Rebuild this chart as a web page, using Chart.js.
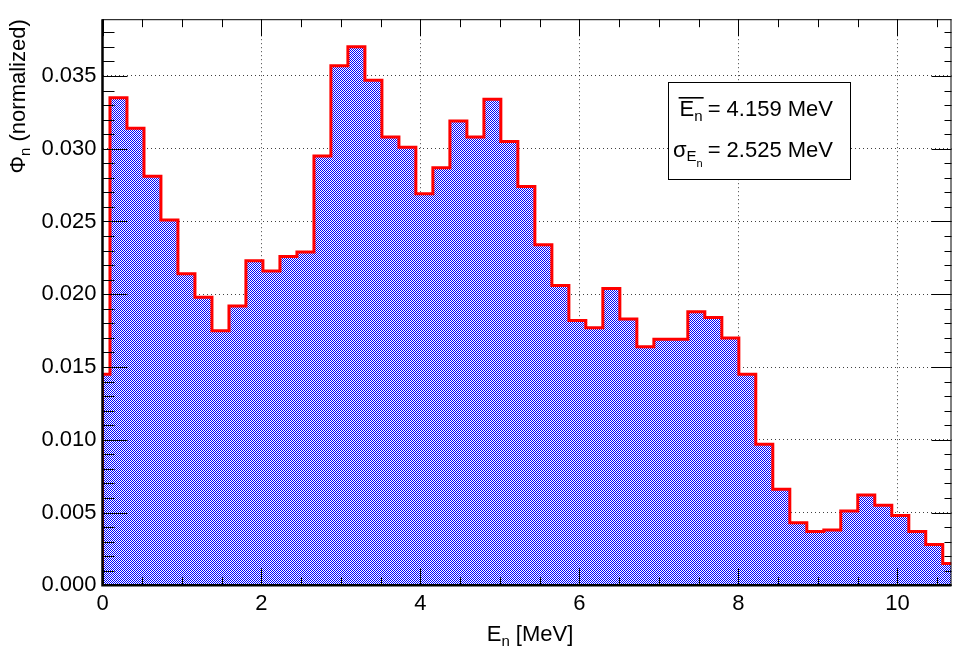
<!DOCTYPE html>
<html>
<head>
<meta charset="utf-8">
<script src="https://cdn.jsdelivr.net/npm/chart.js@4/dist/chart.umd.min.js"></script>
<style>
  html, body { margin: 0; padding: 0; background: #fff; }
  #wrap { width: 953px; height: 653px; position: relative; }
</style>
</head>
<body>
<div id="wrap"><canvas id="c" width="953" height="653"></canvas></div>
<script>
// Lower bin edges of the neutron energy spectrum [MeV]
const binEdges = [
  0, 0.094, 0.308, 0.522, 0.735, 0.949, 1.163, 1.377, 1.591, 1.804,
  2.018, 2.232, 2.446, 2.660, 2.873, 3.087, 3.301, 3.515, 3.729, 3.942,
  4.156, 4.370, 4.584, 4.798, 5.011, 5.225, 5.439, 5.653, 5.867, 6.080,
  6.294, 6.508, 6.722, 6.936, 7.149, 7.363, 7.577, 7.791, 8.005, 8.218,
  8.432, 8.646, 8.860, 9.074, 9.287, 9.501, 9.715, 9.929, 10.143, 10.356,
  10.570
];
// Normalized flux in each bin
const flux = [
  0.0145, 0.0335, 0.0314, 0.0281, 0.0251, 0.0214, 0.0198, 0.0175, 0.0192, 0.0223,
  0.0216, 0.0226, 0.0229, 0.0295, 0.0357, 0.0370, 0.0347, 0.0308, 0.0301, 0.0269,
  0.0287, 0.0319, 0.0308, 0.0334, 0.0305, 0.0274, 0.0234, 0.0206, 0.0182, 0.0177,
  0.0204, 0.0183, 0.0164, 0.0169, 0.0169, 0.0188, 0.0184, 0.0170, 0.0145, 0.0097,
  0.0066, 0.0043, 0.0037, 0.0038, 0.0051, 0.0062, 0.0055, 0.0048, 0.0037, 0.0028,
  0.0015
];
const xMin = 0, xMax = 10.68;
const yMin = 0, yMax = 0.0389;
const xMajorStep = 2, xMinorStep = 0.5;
const yMajorStep = 0.005, yMinorStep = 0.001;
const meanEnergy = '4.159';
const sigmaEnergy = '2.525';
const unit = 'MeV';

const FONT = '"Liberation Sans", Arial, Helvetica, sans-serif';

// Step outline: starts on the baseline, one point per lower edge, closes at the range end
const outline = [{ x: binEdges[0], y: 0 }];
binEdges.forEach((e, i) => outline.push({ x: e, y: flux[i] }));
outline.push({ x: xMax, y: flux[flux.length - 1] });

// Blue/white checker fill
function checkerPattern() {
  const p = document.createElement('canvas');
  p.width = 2; p.height = 2;
  const g = p.getContext('2d');
  g.fillStyle = '#ffffff'; g.fillRect(0, 0, 2, 2);
  g.fillStyle = '#0000ff'; g.fillRect(0, 0, 1, 1); g.fillRect(1, 1, 1, 1);
  return g.createPattern(p, 'repeat');
}

// Inward tick marks on all four sides of the frame, plus the frame itself
const frameTicks = {
  id: 'frameTicks',
  afterDraw(chart) {
    const { ctx, chartArea: a, scales: { x, y } } = chart;
    ctx.save();
    ctx.strokeStyle = '#000';
    ctx.lineWidth = 1;
    ctx.beginPath();
    for (let k = 0; k * xMinorStep <= xMax + 1e-9; k++) {
      const v = k * xMinorStep;
      const r = v / xMajorStep;
      const major = Math.abs(r - Math.round(r)) < 1e-6;
      const px = Math.round(x.getPixelForValue(v)) + 0.5;
      const lenB = major ? 17 : 8;
      ctx.moveTo(px, a.bottom); ctx.lineTo(px, a.bottom - lenB);
      ctx.moveTo(px, a.top); ctx.lineTo(px, a.top + lenB);
    }
    for (let k = 0; Math.round(k * yMinorStep * 1e6) / 1e6 <= yMax; k++) {
      const v = k * yMinorStep;
      const r = v / yMajorStep;
      const major = Math.abs(r - Math.round(r)) < 1e-6;
      const py = Math.round(y.getPixelForValue(v)) + 0.5;
      ctx.moveTo(a.left, py); ctx.lineTo(a.left + (major ? 25 : 12), py);
      ctx.moveTo(a.right, py); ctx.lineTo(a.right - (major ? 20 : 7), py);
    }
    ctx.stroke();

    // frame
    ctx.beginPath();
    ctx.moveTo(a.left, a.top + 0.5); ctx.lineTo(a.right, a.top + 0.5);
    ctx.moveTo(a.right - 0.5, a.top); ctx.lineTo(a.right - 0.5, a.bottom);
    ctx.stroke();
    ctx.lineWidth = 2.5;
    ctx.beginPath();
    ctx.moveTo(a.left, a.top); ctx.lineTo(a.left, a.bottom + 1.2);
    ctx.moveTo(a.left - 1.2, a.bottom); ctx.lineTo(a.right, a.bottom);
    ctx.stroke();
    ctx.restore();
  }
};

// Axis titles and the statistics box
const annotations = {
  id: 'annotations',
  afterDraw(chart) {
    const { ctx, chartArea: a } = chart;
    const big = '22px ' + FONT, sub = '15px ' + FONT, sub2 = '11px ' + FONT;
    ctx.save();
    ctx.fillStyle = '#000';
    ctx.textBaseline = 'alphabetic';
    ctx.textAlign = 'left';

    // x title: E_n [MeV], centred under the frame
    ctx.font = big; const wE = ctx.measureText('E').width;
    const wRest = ctx.measureText(' [' + unit + ']').width;
    ctx.font = sub; const wn = ctx.measureText('n').width;
    const wx = wE + wn + wRest;
    let sx = (a.left + a.right) / 2 - wx / 2 + 3;
    const bx = 641;
    ctx.font = big; ctx.fillText('E', sx, bx);
    ctx.font = sub; ctx.fillText('n', sx + wE, bx + 5);
    ctx.font = big; ctx.fillText(' [' + unit + ']', sx + wE + wn, bx);

    // y title: Φ_n (normalized), rotated, ending at the top of the frame
    ctx.save();
    ctx.translate(25, a.top);
    ctx.rotate(-Math.PI / 2);
    ctx.font = big; const wPhi = ctx.measureText('\u03A6').width;
    const wNorm = ctx.measureText(' (normalized)').width;
    ctx.font = sub; const wn2 = ctx.measureText('n').width;
    let tx = -(wPhi + wn2 + wNorm);
    ctx.font = big; ctx.fillText('\u03A6', tx, 0);
    ctx.font = sub; ctx.fillText('n', tx + wPhi, 5);
    ctx.font = big; ctx.fillText(' (normalized)', tx + wPhi + wn2, 0);
    ctx.restore();

    // statistics box
    const boxX = 668.5, boxY = 82.5, boxW = 182, boxH = 97;
    ctx.fillStyle = '#fff';
    ctx.fillRect(boxX, boxY, boxW, boxH);
    ctx.strokeStyle = '#000'; ctx.lineWidth = 1;
    ctx.strokeRect(boxX, boxY, boxW, boxH);
    ctx.fillStyle = '#000';
    const rightEdge = 833;

    // mean energy line
    const b1 = 116;
    ctx.font = big; ctx.textAlign = 'right';
    const t1 = '= ' + meanEnergy + ' ' + unit;
    ctx.fillText(t1, rightEdge, b1);
    const w1 = ctx.measureText(t1).width;
    ctx.textAlign = 'left';
    let px = rightEdge - w1 - 5 - wn - wE;
    ctx.font = big; ctx.fillText('E', px, b1);
    ctx.font = sub; ctx.fillText('n', px + wE, b1 + 5);
    ctx.fillRect(px - 1, 97, wE + wn + 2, 1.6);

    // spread line
    const b2 = 157;
    ctx.font = big; ctx.textAlign = 'right';
    const t2 = '= ' + sigmaEnergy + ' ' + unit;
    ctx.fillText(t2, rightEdge, b2);
    const w2 = ctx.measureText(t2).width;
    ctx.textAlign = 'left';
    const wSig = ctx.measureText('\u03C3').width;
    ctx.font = sub; const wE2 = ctx.measureText('E').width;
    ctx.font = sub2; const wn3 = ctx.measureText('n').width;
    let qx = rightEdge - w2 - 5 - wn3 - wE2 - wSig;
    ctx.font = big; ctx.fillText('\u03C3', qx, b2);
    ctx.font = sub; ctx.fillText('E', qx + wSig, b2 + 4);
    ctx.font = sub2; ctx.fillText('n', qx + wSig + wE2, b2 + 10);
    ctx.restore();
  }
};

const canvas = document.getElementById('c');
const fillPattern = checkerPattern();

new Chart(canvas, {
  type: 'line',
  data: {
    datasets: [{
      data: outline,
      stepped: 'before',
      borderColor: '#ff0000',
      borderWidth: 3,
      backgroundColor: fillPattern,
      fill: 'origin',
      pointRadius: 0,
      pointHoverRadius: 0,
      borderJoinStyle: 'miter',
      tension: 0
    }]
  },
  options: {
    responsive: false,
    devicePixelRatio: 1,
    animation: false,
    events: [],
    layout: { padding: { left: 0, right: 1.5, top: 3, bottom: 0 }, autoPadding: false },
    plugins: { legend: { display: false }, tooltip: { enabled: false } },
    scales: {
      x: {
        type: 'linear',
        min: xMin, max: xMax,
        z: 1,
        afterFit(s) { s.height = 67.7; },
        border: { display: false, dash: [1, 3] },
        grid: { color: 'rgba(0,0,0,0.75)', lineWidth: 1, drawTicks: false },
        ticks: {
          stepSize: xMajorStep, includeBounds: false, autoSkip: false, maxRotation: 0,
          padding: 5, color: '#000', font: { family: FONT, size: 22 },
          callback: v => String(v)
        }
      },
      y: {
        type: 'linear',
        min: yMin, max: yMax,
        z: 1,
        afterFit(s) { s.width = 102.5; },
        border: { display: false, dash: [1, 3] },
        grid: { color: 'rgba(0,0,0,0.75)', lineWidth: 1, drawTicks: false },
        ticks: {
          stepSize: yMajorStep, includeBounds: false, autoSkip: false,
          padding: 6, color: '#000', font: { family: FONT, size: 22 },
          callback: v => v.toFixed(3)
        }
      }
    }
  },
  plugins: [frameTicks, annotations]
});
</script>
</body>
</html>
